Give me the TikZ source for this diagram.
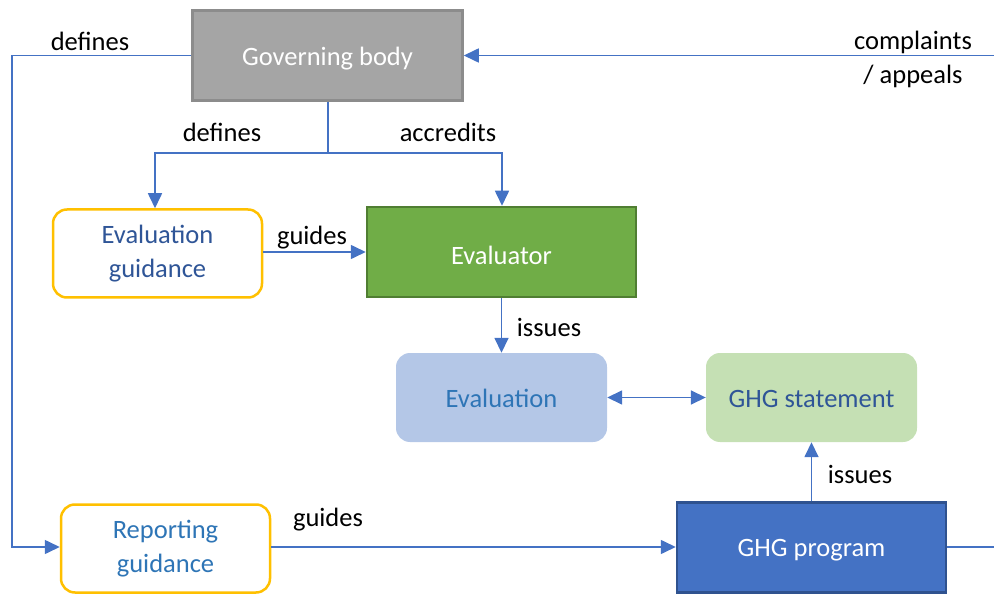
\documentclass[tikz,border=0pt]{standalone}
\usepackage{fontspec}
\setmainfont{Carlito}
\usetikzlibrary{arrows.meta}
\definecolor{lineblue}{HTML}{4472C4}
\definecolor{govfill}{HTML}{A5A5A5}
\definecolor{govdraw}{HTML}{8C8C8C}
\definecolor{evfill}{HTML}{70AD47}
\definecolor{evdraw}{HTML}{507E32}
\definecolor{yel}{HTML}{FFC000}
\definecolor{darktxt}{HTML}{2F5597}
\definecolor{lighttxt}{HTML}{2E75B6}
\definecolor{evalfill}{HTML}{B4C7E7}
\definecolor{stmtfill}{HTML}{C5E0B4}
\definecolor{progfill}{HTML}{4472C4}
\definecolor{progdraw}{HTML}{2F528F}
\newcommand{\lowertext}[2][3pt]{\raisebox{-#1}[\height][\depth]{#2}}
\begin{document}
\begin{tikzpicture}[x=1pt,y=-1pt,
  every node/.style={font=\fontsize{26.5}{34}\selectfont},
  sqbox/.style={draw, line width=2.5pt, minimum width=#1, minimum height=90pt, inner sep=0pt, text=white, align=center},
  guidebox/.style={draw=yel, line width=2.5pt, rounded corners=14pt, fill=white, minimum width=209pt, minimum height=88pt, inner sep=0pt, align=center},
  softbox/.style={rounded corners=14pt, minimum width=211pt, minimum height=89pt, inner sep=0pt, align=center},
  conn/.style={draw=lineblue, line width=1.6pt},
  arr/.style={conn, -{Triangle[length=15pt,width=14pt]}},
  darr/.style={conn, {Triangle[length=15pt,width=14pt]}-{Triangle[length=15pt,width=14pt]}},
  lbl/.style={text=black, inner sep=0pt}
]
\useasboundingbox (0,0) rectangle (994,596);

\node[sqbox=270pt, fill=govfill, draw=govdraw] (gov) at (327.5,55.5) {\lowertext{Governing body}};
\node[guidebox, text=darktxt] (eg) at (157.5,253.5) {Evaluation\\guidance};
\node[sqbox=269pt, fill=evfill, draw=evdraw] (evr) at (501.5,252) {\lowertext{Evaluator}};
\node[softbox, fill=evalfill, text=lighttxt] (eval) at (501.5,397.5) {\lowertext[1pt]{Evaluation}};
\node[softbox, fill=stmtfill, text=darktxt] (stmt) at (811.5,397.5) {\lowertext[1pt]{GHG statement}};
\node[guidebox, text=lighttxt] (rg) at (165.5,548.5) {Reporting\\guidance};
\node[sqbox=269pt, fill=progfill, draw=progdraw] (prog) at (811.5,547.5) {\lowertext{GHG program}};

\coordinate (tl) at (12,55.5);
\coordinate (bl) at (12,547);
\coordinate (split) at (328,153);
\coordinate (sl) at (155,153);
\coordinate (sr) at (502,153);
\coordinate (tr) at (994,55.5);
\coordinate (br) at (994,547);

% left loop
\draw[arr] (gov.west) -- (tl) -- (bl) -- (rg.west |- bl);
% defines / accredits
\draw[conn] (gov.south -| split) -- (split);
\draw[arr] (split) -- (sl) -- (sl |- eg.north);
\draw[arr] (split) -- (sr) -- (sr |- evr.north);
% guides
\draw[arr] (eg.east |- evr.west) -- (evr.west);
% issues
\draw[arr] (evr.south) -- (eval.north);
% double
\draw[darr] (eval.east) -- (stmt.west);
% program issues
\draw[arr] (prog.north) -- (stmt.south);
% reporting guides
\draw[arr] (rg.east |- bl) -- (prog.west |- bl);
% right ends
\draw[conn] (prog.east |- br) -- (br);
\draw[arr] (tr) -- (gov.east);

\node[lbl] (l1) at (90,41) {defines};
\node[lbl] (l2) at (222,132) {defines};
\node[lbl] (l3) at (448,132) {accredits};
\node[lbl] (l4) at (312,238) {guides};
\node[lbl] (l5) at (549,327) {issues};
\node[lbl] (l6) at (860,474) {issues};
\node[lbl] (l7) at (328,520) {guides};
\node[lbl, align=center] (l8) at (913,59) {complaints\\/ appeals};
\end{tikzpicture}
\end{document}
